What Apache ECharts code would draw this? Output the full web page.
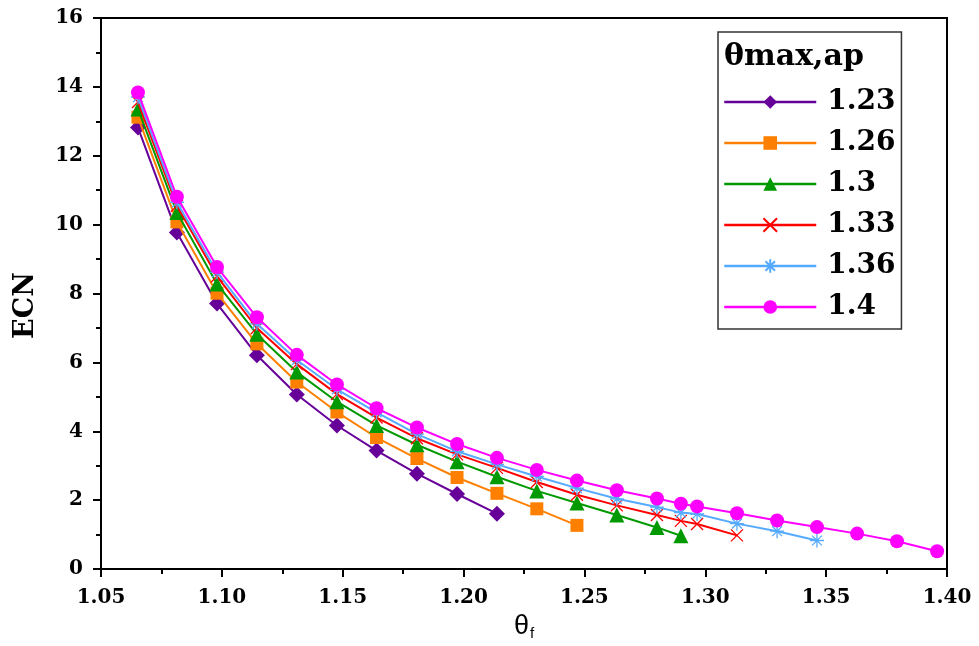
<!DOCTYPE html>
<html>
<head>
<meta charset="utf-8">
<script src="https://cdn.jsdelivr.net/npm/echarts@6/dist/echarts.min.js"></script>
<style>html,body{margin:0;padding:0;background:#fff}#c{width:979px;height:646px}</style>
</head>
<body>
<div id="c"></div>
<script>
// θf sample positions (x)
const thetaF = [1.0653,1.0814,1.0980,1.1145,1.1310,1.1476,1.1640,1.1807,1.1973,1.2138,1.2303,1.2469,1.2634,1.2800,1.2899,1.2966,1.3131,1.3297,1.3462,1.3628,1.3793,1.3959];
const seriesNames = ['1.23','1.26','1.3','1.33','1.36','1.4'];
// ECN values per series (θmax,ap)
const ecn123 = [12.82,9.77,7.71,6.21,5.07,4.17,3.44,2.77,2.18,1.61];
const ecn126 = [13.12,10.08,8.01,6.54,5.43,4.56,3.82,3.21,2.66,2.20,1.75,1.27];
const ecn130 = [13.36,10.35,8.28,6.82,5.72,4.86,4.17,3.61,3.12,2.68,2.27,1.92,1.57,1.21,0.97];
const ecn133 = [13.56,10.55,8.50,7.00,5.95,5.08,4.40,3.80,3.33,2.94,2.53,2.16,1.85,1.57,1.40,1.31,0.98];
const ecn136 = [13.70,10.65,8.62,7.12,6.07,5.22,4.55,3.92,3.42,3.04,2.69,2.35,2.04,1.80,1.64,1.60,1.32,1.10,0.83];
const ecn140 = [13.84,10.81,8.77,7.31,6.22,5.36,4.67,4.11,3.63,3.23,2.88,2.57,2.29,2.05,1.90,1.82,1.62,1.41,1.22,1.03,0.81,0.52];
const xTicks = ['1.05','1.10','1.15','1.20','1.25','1.30','1.35','1.40'];
const yTicks = ['0','2','4','6','8','10','12','14','16'];

const allValues = [ecn123, ecn126, ecn130, ecn133, ecn136, ecn140];
const colors = ['#660099','#ff8000','#009900','#ff0000','#55aaff','#ff00ff'];
const symbols = ['diamond','rect','triangle',
  'path://M0,0L10,10M10,0L0,10',
  'path://M5,0L5,10M0,5L10,5M1.5,1.5L8.5,8.5M8.5,1.5L1.5,8.5',
  'circle'];
const sizes = [16,13,15,12,14,14];
const lineSym = [false,false,false,true,true,false];

const series = allValues.map((vals, i) => ({
  name: seriesNames[i],
  type: 'line',
  data: vals.map((v, k) => [thetaF[k], v]),
  symbol: symbols[i],
  symbolSize: sizes[i],
  showSymbol: true,
  lineStyle: {color: colors[i], width: 2},
  itemStyle: lineSym[i] ? {color: colors[i], borderColor: colors[i], borderWidth: 1.3} : {color: colors[i], borderWidth: 0},
  z: 2 + i,
  animation: false
}));

const chart = echarts.init(document.getElementById('c'), null, {renderer: 'canvas'});
const serif = 'DejaVu Serif';
chart.setOption({
  animation: false,
  backgroundColor: '#fff',
  grid: {left: 101, right: 32, top: 18, bottom: 70, show: true, borderColor: '#000', borderWidth: 2, backgroundColor: 'transparent'},
  xAxis: {
    type: 'value', min: 1.05, max: 1.40, interval: 0.05,
    axisLine: {show: true, onZero: false, lineStyle: {color: '#000', width: 2}},
    axisTick: {show: true, length: 8, lineStyle: {color: '#000', width: 2}},
    minorTick: {show: true, splitNumber: 2, length: 5, lineStyle: {color: '#000', width: 2}},
    splitLine: {show: false},
    axisLabel: {color: '#000', fontFamily: serif, fontWeight: 'bold', fontSize: 20, margin: 19,
      formatter: v => xTicks[Math.round((v - 1.05) / 0.05)] || ''},
    name: '{a|θ}{b|f}', nameLocation: 'middle', nameGap: 36,
    nameTextStyle: {rich: {
      a: {fontFamily: 'Liberation Sans', fontSize: 27, color: '#000', lineHeight: 30},
      b: {fontFamily: 'Liberation Sans', fontSize: 15, color: '#000', padding: [14, 0, 0, 1]}
    }}
  },
  yAxis: {
    type: 'value', min: 0, max: 16, interval: 2,
    axisLine: {show: true, lineStyle: {color: '#000', width: 2}},
    axisTick: {show: true, length: 8, lineStyle: {color: '#000', width: 2}},
    minorTick: {show: true, splitNumber: 2, length: 5, lineStyle: {color: '#000', width: 2}},
    splitLine: {show: false},
    axisLabel: {color: '#000', fontFamily: serif, fontWeight: 'bold', fontSize: 20, margin: 18,
      formatter: v => yTicks[Math.round(v / 2)] || ''},
    name: 'ECN', nameLocation: 'middle', nameGap: 62,
    nameTextStyle: {color: '#000', fontFamily: serif, fontWeight: 'bold', fontSize: 27, padding: [0, 24, 0, 0]}
  },
  legend: {
    show: true, orient: 'vertical', left: 718, top: 32,
    data: seriesNames,
    padding: [55, 6, 7, 5],
    itemWidth: 92, itemHeight: 17, itemGap: 11,
    borderColor: '#333', borderWidth: 1.5,
    backgroundColor: '#fff',
    lineStyle: {width: 2.5},
    textStyle: {color: '#000', fontFamily: serif, fontWeight: 'bold', fontSize: 28, lineHeight: 30, padding: [0, 0, 0, 6]}
  },
  graphic: [{
    type: 'text', left: 724, top: 42, z: 100,
    style: {text: 'θmax,ap', fill: '#000', font: 'bold 30px "DejaVu Serif"'}
  }],
  series: series
});
</script>
</body>
</html>
